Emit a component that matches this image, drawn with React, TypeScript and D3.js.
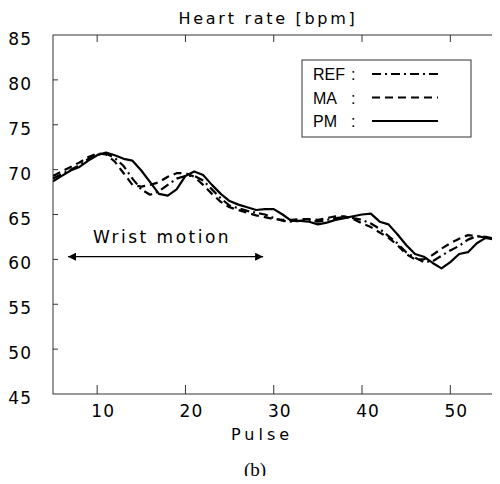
import React, { useRef, useEffect } from 'react';
import * as d3 from 'd3';

// pulse index 5..55
const pulses = d3.range(5, 56);

const refRate = [
  69.0, 69.5, 70.0, 70.5, 71.2, 71.7, 71.8, 71.3, 70.4, 69.0,
  67.8, 67.2, 67.6, 68.3, 69.0, 69.3, 69.3, 68.8, 67.8, 66.8,
  66.0, 65.7, 65.4, 65.2, 65.0, 64.6, 64.3, 64.2, 64.3, 64.4,
  64.2, 64.4, 64.6, 64.7, 64.6, 64.4, 64.0, 63.4, 62.6, 61.8,
  60.8, 60.2, 59.7, 59.8, 60.4, 61.0, 61.5, 62.2, 62.6, 62.5, 62.3,
];

const maRate = [
  69.3, 69.8, 70.3, 70.8, 71.4, 71.8, 71.7, 70.9, 69.6, 68.3,
  68.1, 68.3, 68.6, 69.2, 69.6, 69.6, 69.2, 68.3, 67.3, 66.4,
  65.8, 65.5, 65.2, 64.9, 64.7, 64.5, 64.4, 64.4, 64.5, 64.5,
  64.4, 64.6, 64.8, 64.8, 64.5, 64.0, 63.6, 63.0, 62.4, 61.6,
  60.6, 60.0, 60.0, 60.5, 61.2, 61.8, 62.3, 62.7, 62.6, 62.4, 62.3,
];

const pmRate = [
  68.7, 69.3, 69.9, 70.3, 71.0, 71.6, 71.9, 71.6, 71.2, 71.0,
  69.9, 68.6, 67.3, 67.1, 67.8, 69.3, 69.8, 69.4, 68.3, 67.3,
  66.5, 66.1, 65.8, 65.5, 65.6, 65.6, 65.0, 64.3, 64.3, 64.2,
  63.9, 64.1, 64.4, 64.6, 64.8, 65.0, 65.1, 64.2, 63.9, 62.8,
  61.6, 60.6, 60.3, 59.6, 59.0, 59.7, 60.6, 60.8, 61.8, 62.4, 62.2,
];

const xTicks = [10, 20, 30, 40, 50];
const yTicks = [45, 50, 55, 60, 65, 70, 75, 80, 85];

const seriesNames = ['REF', 'MA', 'PM'];
const seriesData = [refRate, maRate, pmRate];
const dashes = ['9,4,2,4', '8,5', null];

// wrist motion span (pulse) and level (bpm)
const wristSpan = [6.7, 28.8];
const wristLevel = 60.3;

function App() {
  const svgRef = useRef(null);

  useEffect(() => {
    const width = 500;
    const height = 484;
    const left = 53, right = 498, top = 35, bottom = 394;
    const axisColour = '#333';
    const tickFont = '"DejaVu Sans", sans-serif';

    const x = d3.scaleLinear().domain([5, 55.4]).range([left, right]);
    const y = d3.scaleLinear().domain([45, 85]).range([bottom, top]);

    const svg = d3.select(svgRef.current);
    svg.selectAll('*').remove();
    svg.attr('width', width).attr('height', height)
      .style('display', 'block')
      .style('background', 'white');

    const defs = svg.append('defs');
    defs.append('clipPath').attr('id', 'plotclip')
      .append('rect')
      .attr('x', left).attr('y', top)
      .attr('width', right - left).attr('height', bottom - top);
    defs.append('marker')
      .attr('id', 'arrowhead')
      .attr('viewBox', '0 0 10 10')
      .attr('refX', 10).attr('refY', 5)
      .attr('markerWidth', 12).attr('markerHeight', 8)
      .attr('markerUnits', 'userSpaceOnUse')
      .attr('orient', 'auto-start-reverse')
      .append('path')
      .attr('d', 'M0,0 L10,5 L0,10 z')
      .attr('fill', '#000');

    // frame
    svg.append('rect')
      .attr('x', left).attr('y', top)
      .attr('width', right - left).attr('height', bottom - top)
      .attr('fill', 'none')
      .attr('stroke', axisColour)
      .attr('stroke-width', 1);

    // x ticks, top and bottom, inward
    const xt = svg.append('g').attr('stroke', axisColour).attr('stroke-width', 1);
    xTicks.forEach(t => {
      xt.append('line').attr('x1', x(t)).attr('x2', x(t)).attr('y1', bottom).attr('y2', bottom - 9);
      xt.append('line').attr('x1', x(t)).attr('x2', x(t)).attr('y1', top).attr('y2', top + 7);
    });
    // y ticks, left and right, inward
    yTicks.slice(1, -1).forEach(t => {
      xt.append('line').attr('x1', left).attr('x2', left + 5).attr('y1', y(t)).attr('y2', y(t));
      xt.append('line').attr('x1', right).attr('x2', right - 5).attr('y1', y(t)).attr('y2', y(t));
    });

    svg.append('g')
      .selectAll('text')
      .data(xTicks)
      .join('text')
      .attr('x', d => x(d) + 6)
      .attr('y', bottom + 23)
      .attr('text-anchor', 'middle')
      .attr('font-family', tickFont)
      .attr('font-size', 17)
      .attr('letter-spacing', 1)
      .text(d => d);

    svg.append('g')
      .selectAll('text')
      .data(yTicks)
      .join('text')
      .attr('x', 32)
      .attr('y', d => y(d) + 10)
      .attr('text-anchor', 'end')
      .attr('font-family', tickFont)
      .attr('font-size', 17)
      .attr('letter-spacing', 1)
      .text(d => d);

    svg.append('text')
      .attr('x', 268).attr('y', 24)
      .attr('text-anchor', 'middle')
      .attr('font-family', tickFont)
      .attr('font-size', 16)
      .attr('letter-spacing', 2.7)
      .text('Heart rate [bpm]');

    svg.append('text')
      .attr('x', 262).attr('y', 440)
      .attr('text-anchor', 'middle')
      .attr('font-family', tickFont)
      .attr('font-size', 16)
      .attr('letter-spacing', 4)
      .text('Pulse');

    svg.append('text')
      .attr('x', 255).attr('y', 476)
      .attr('text-anchor', 'middle')
      .attr('font-family', '"Liberation Serif", serif')
      .attr('font-size', 19)
      .text('(b)');

    // series
    const line = d3.line()
      .x((d, i) => x(pulses[i]))
      .y(d => y(d));

    const plot = svg.append('g').attr('clip-path', 'url(#plotclip)');
    seriesData.forEach((vals, k) => {
      plot.append('path')
        .datum(vals)
        .attr('d', line)
        .attr('fill', 'none')
        .attr('stroke', '#000')
        .attr('stroke-width', 2.2)
        .attr('stroke-linejoin', 'round')
        .attr('stroke-dasharray', dashes[k]);
    });

    // wrist motion annotation
    svg.append('line')
      .attr('x1', x(wristSpan[0])).attr('x2', x(wristSpan[1]))
      .attr('y1', y(wristLevel)).attr('y2', y(wristLevel))
      .attr('stroke', '#000')
      .attr('stroke-width', 1.3)
      .attr('marker-start', 'url(#arrowhead)')
      .attr('marker-end', 'url(#arrowhead)');

    svg.append('text')
      .attr('x', 162).attr('y', y(wristLevel) - 14)
      .attr('text-anchor', 'middle')
      .attr('font-family', tickFont)
      .attr('font-size', 17)
      .attr('letter-spacing', 2.5)
      .text('Wrist motion');

    // legend
    const legend = svg.append('g').attr('transform', 'translate(302,60)');
    legend.append('rect')
      .attr('width', 169).attr('height', 77)
      .attr('fill', 'white')
      .attr('stroke', axisColour)
      .attr('stroke-width', 1);
    seriesNames.forEach((name, k) => {
      const row = legend.append('g').attr('transform', `translate(0,${20 + k * 23.5})`);
      row.append('text')
        .attr('x', 11).attr('y', 0)
        .attr('font-family', '"Liberation Sans", Arial, sans-serif')
        .attr('font-size', 16)
        .text(name);
      row.append('text')
        .attr('x', 49).attr('y', 0)
        .attr('font-family', '"Liberation Sans", Arial, sans-serif')
        .attr('font-size', 16)
        .text(':');
      row.append('line')
        .attr('x1', 70).attr('x2', 136)
        .attr('y1', -6).attr('y2', -6)
        .attr('stroke', '#000')
        .attr('stroke-width', 2)
        .attr('stroke-dasharray', dashes[k]);
    });
  }, []);

  return (
    <div style={{ margin: -8 }}>
      <svg ref={svgRef}></svg>
    </div>
  );
}

export default App;
